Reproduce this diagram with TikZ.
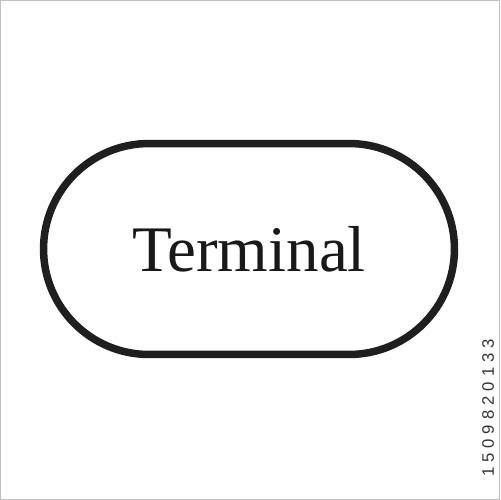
\documentclass[tikz,border=0pt]{standalone}
\usepackage{fontspec}
\setmainfont{Liberation Serif}
\newfontfamily\idfont[LetterSpace=30]{Liberation Sans}
\usetikzlibrary{positioning}

\begin{document}
\begin{tikzpicture}[x=0.02cm, y=-0.02cm]
        % Define styles for shapes
        \tikzstyle{terminalbox} = [draw=black!88, line width=0.15cm, rounded corners=2.11cm, minimum width=8.22cm, minimum height=4.22cm, inner sep=0pt]
        \tikzstyle{idlabel} = [text=black!80, font=\idfont\fontsize{9.5}{10}\selectfont, rotate=90, inner sep=0pt]
        % Frame of the picture
        \useasboundingbox (0,0) rectangle (500,500);
        \draw[black!25, line width=0.5pt] (0.3,0.3) rectangle (499.7,499.7);
        % Draw shapes
        \node[terminalbox] (term) at (249,249) {};
        \node[anchor=base, font=\fontsize{37}{42}\selectfont, text=black!90] (label) at (249,271) {Terminal};
        \node[idlabel] (stockid) at (488,408) {1509820133};
    \end{tikzpicture}
\end{document}
